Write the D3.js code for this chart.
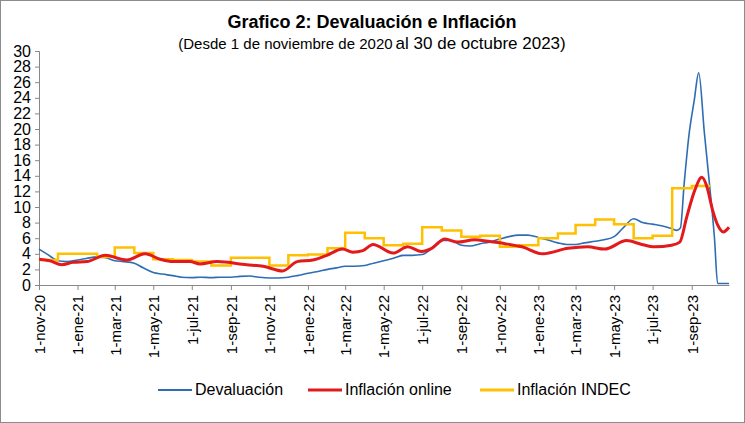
<!DOCTYPE html>
<html><head><meta charset="utf-8">
<script src="https://cdn.jsdelivr.net/npm/d3@7"></script>
<style>
html,body{margin:0;padding:0;background:#fff;}
svg{display:block;font-family:"Liberation Sans Narrow","Liberation Sans",Arial,sans-serif;}
</style></head>
<body><svg id="c" width="745" height="423"></svg>
<script>
// ---- data ----
const yTicks = [0,2,4,6,8,10,12,14,16,18,20,22,24,26,28,30];
const xTickLabels = ["1-nov-20","1-ene-21","1-mar-21","1-may-21","1-jul-21","1-sep-21","1-nov-21","1-ene-22","1-mar-22","1-may-22","1-jul-22","1-sep-22","1-nov-22","1-ene-23","1-mar-23","1-may-23","1-jul-23","1-sep-23"];
const monthNames = ["ene","feb","mar","abr","may","jun","jul","ago","sep","oct","nov","dic"];

const devDates = ["2020-11-01","2020-11-15","2020-12-01","2020-12-15","2021-01-01","2021-01-15","2021-02-01","2021-02-15","2021-03-01","2021-03-15","2021-04-01","2021-04-15","2021-05-01","2021-05-15","2021-06-01","2021-06-15","2021-07-01","2021-07-15","2021-08-01","2021-08-15","2021-09-01","2021-09-15","2021-10-01","2021-10-15","2021-11-01","2021-11-15","2021-12-01","2021-12-15","2022-01-01","2022-01-15","2022-02-01","2022-02-15","2022-03-01","2022-03-15","2022-04-01","2022-04-15","2022-05-01","2022-05-15","2022-06-01","2022-06-15","2022-07-01","2022-07-15","2022-08-01","2022-08-15","2022-09-01","2022-09-15","2022-10-01","2022-10-15","2022-11-01","2022-11-15","2022-12-01","2022-12-15","2023-01-01","2023-01-15","2023-02-01","2023-02-15","2023-03-01","2023-03-15","2023-04-01","2023-04-15","2023-05-01","2023-05-15","2023-06-01","2023-06-15","2023-07-01","2023-07-15","2023-08-01","2023-08-08","2023-08-14","2023-08-20","2023-08-28","2023-09-05","2023-09-12","2023-09-21","2023-09-29","2023-10-07","2023-10-12","2023-10-30"];
const devValues = [4.6,3.9,3.1,3.0,3.2,3.4,3.6,3.5,3.1,3.0,2.8,2.2,1.6,1.4,1.2,1.0,0.95,1.0,0.95,1.0,1.0,1.1,1.15,1.0,0.9,0.9,1.0,1.2,1.5,1.7,2.0,2.2,2.4,2.4,2.5,2.8,3.1,3.4,3.8,3.8,3.9,4.6,5.7,5.7,5.1,5.0,5.3,5.5,5.9,6.2,6.4,6.4,6.1,5.8,5.4,5.2,5.2,5.4,5.6,5.8,6.2,7.3,8.5,8.0,7.8,7.6,7.2,7.0,7.3,13.0,19.5,23.7,27.2,19.5,13.0,6.0,0.2,0.2];

const onlineDates = ["2020-11-01","2020-11-18","2020-12-07","2020-12-25","2021-01-16","2021-02-14","2021-03-20","2021-04-18","2021-05-12","2021-06-01","2021-06-28","2021-07-14","2021-08-10","2021-09-26","2021-10-22","2021-11-22","2021-12-15","2022-01-09","2022-01-31","2022-02-25","2022-03-13","2022-03-29","2022-04-14","2022-05-16","2022-06-08","2022-06-30","2022-07-16","2022-08-06","2022-08-26","2022-09-22","2022-10-13","2022-11-09","2022-12-06","2023-01-08","2023-02-17","2023-03-20","2023-04-16","2023-05-21","2023-06-14","2023-07-04","2023-07-31","2023-08-13","2023-08-24","2023-09-06","2023-09-17","2023-09-25","2023-10-04","2023-10-12","2023-10-21","2023-10-30"];
const onlineValues = [3.3,3.1,2.6,2.9,3.0,3.8,3.2,4.0,3.3,3.0,3.0,2.7,3.0,2.6,2.4,1.8,3.0,3.2,3.8,4.6,4.2,4.4,5.2,4.1,4.9,4.3,4.7,5.9,5.5,5.8,5.6,5.3,4.9,4.0,4.7,4.9,4.6,5.7,5.2,4.9,5.1,5.5,8.7,12.2,13.8,12.6,9.6,7.7,6.8,7.4];

const indecMonths = ["2020-11-01","2020-12-01","2021-01-01","2021-02-01","2021-03-01","2021-04-01","2021-05-01","2021-06-01","2021-07-01","2021-08-01","2021-09-01","2021-10-01","2021-11-01","2021-12-01","2022-01-01","2022-02-01","2022-03-01","2022-04-01","2022-05-01","2022-06-01","2022-07-01","2022-08-01","2022-09-01","2022-10-01","2022-11-01","2022-12-01","2023-01-01","2023-02-01","2023-03-01","2023-04-01","2023-05-01","2023-06-01","2023-07-01","2023-08-01","2023-09-01","2023-10-01"];
const indecValues = [3.2,4.0,4.0,3.6,4.8,4.1,3.3,3.2,3.0,2.5,3.5,3.5,2.5,3.8,3.9,4.7,6.7,6.0,5.1,5.3,7.4,7.0,6.2,6.3,4.9,5.1,6.0,6.6,7.7,8.4,7.8,6.0,6.3,12.4,12.7,12.7];

const seriesNames = ["Devaluación","Inflación online","Inflación INDEC"];
const seriesColors = ["#2E6DB4","#E31A1C","#FFC000"];

// ---- chart ----
const parse = d3.timeParse("%Y-%m-%d");
const svg = d3.select("#c");
const W = 745, H = 423;
const m = {left:39, right:729, top:51, bottom:285};

svg.append("rect").attr("x",0.5).attr("y",0.5).attr("width",W-1).attr("height",H-1)
  .attr("fill","#fff").attr("stroke","#8c8c8c");

const x = d3.scaleTime().domain([parse("2020-11-01"), parse("2023-10-30")]).range([m.left, m.right]);
const y = d3.scaleLinear().domain([0,30]).range([m.bottom, m.top]);

// title
svg.append("text").attr("x",372).attr("y",28).attr("text-anchor","middle")
  .attr("font-size",18).attr("font-weight","bold").attr("fill","#000")
  .text("Grafico 2: Devaluación e Inflación");
const sub = svg.append("text").attr("x",372).attr("y",49).attr("text-anchor","middle").attr("fill","#000");
sub.append("tspan").attr("font-size",15).text("(Desde 1 de noviembre de 2020");
sub.append("tspan").attr("font-size",17).attr("dx",3).text("al 30 de octubre 2023)");

// y axis
const yAxis = d3.axisLeft(y).tickValues(yTicks).tickSize(4).tickPadding(4);
const gy = svg.append("g").attr("transform",`translate(${m.left},0)`).call(yAxis);
gy.select(".domain").attr("stroke","#888");
gy.selectAll(".tick line").attr("stroke","#888");
gy.selectAll(".tick text").attr("font-size",16).attr("fill","#000")
  .attr("font-family","'Liberation Sans Narrow','Liberation Sans',Arial,sans-serif");

// x axis
const xTickDates = xTickLabels.map(s => {
  const p = s.split("-");
  return new Date(2000 + (+p[2]), monthNames.indexOf(p[1]), +p[0]);
});
const xAxis = d3.axisBottom(x).tickValues(xTickDates).tickSize(5).tickSizeOuter(0)
  .tickFormat((d,i) => xTickLabels[i]);
const gx = svg.append("g").attr("transform",`translate(0,${m.bottom})`).call(xAxis);
gx.select(".domain").attr("stroke","#888");
gx.selectAll(".tick line").attr("stroke","#888");
gx.selectAll(".tick text").attr("font-size",15).attr("fill","#000")
  .attr("font-family","'Liberation Sans Narrow','Liberation Sans',Arial,sans-serif")
  .attr("text-anchor","end").attr("transform","rotate(-90)")
  .attr("x",-10).attr("y",0).attr("dy","0.35em");

// lines
const line = d3.line().x(d => x(d[0])).y(d => y(d[1]));
const devData = devDates.map((d,i) => [parse(d), devValues[i]]);
const onlineData = onlineDates.map((d,i) => [parse(d), onlineValues[i]]);
const indecData = indecMonths.map((d,i) => [parse(d), indecValues[i]]);

svg.append("path").datum(devData).attr("fill","none").attr("stroke",seriesColors[0])
  .attr("stroke-width",1.6).attr("d", line.curve(d3.curveMonotoneX));
svg.append("path").datum(indecData).attr("fill","none").attr("stroke",seriesColors[2])
  .attr("stroke-width",2.5).attr("d", d3.line().x(d=>x(d[0])).y(d=>y(d[1])).curve(d3.curveStepAfter));
svg.append("path").datum(onlineData).attr("fill","none").attr("stroke",seriesColors[1])
  .attr("stroke-width",3).attr("d", d3.line().x(d=>x(d[0])).y(d=>y(d[1])).curve(d3.curveMonotoneX));

// legend
const legX = [158, 308, 480];
const leg = svg.append("g");
seriesNames.forEach((n,i) => {
  leg.append("line").attr("x1",legX[i]).attr("x2",legX[i]+34).attr("y1",390).attr("y2",390)
    .attr("stroke",seriesColors[i]).attr("stroke-width", i==0?1.8:2.8);
  leg.append("text").attr("x",legX[i]+37).attr("y",395).attr("font-size",16).attr("fill","#000")
    .text(n);
});
</script></body></html>
